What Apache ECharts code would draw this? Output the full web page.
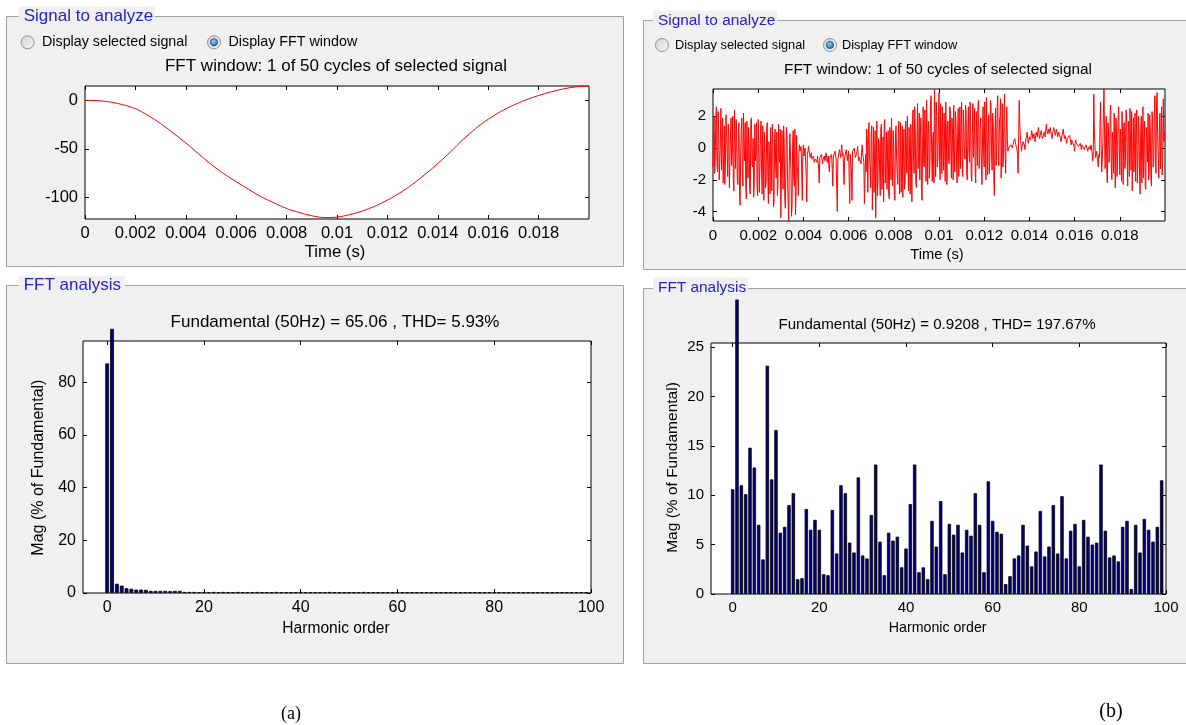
<!DOCTYPE html>
<html>
<head>
<meta charset="utf-8">
<title>FFT analysis</title>
<script src="https://cdn.jsdelivr.net/npm/echarts@6/dist/echarts.min.js"></script>
<style>
  html, body { margin: 0; padding: 0; background: #fff; }
  #main { width: 1186px; height: 725px; }
</style>
</head>
<body>
<div id="main"></div>
<script>
// (a) FFT window signal, read every 0.5 ms
const sineTime = [0, 0.0005, 0.001, 0.0015, 0.002, 0.0025, 0.003, 0.0035, 0.004, 0.0045,
  0.005, 0.0055, 0.006, 0.0065, 0.007, 0.0075, 0.008, 0.0085, 0.009, 0.0095,
  0.01, 0.0105, 0.011, 0.0115, 0.012, 0.0125, 0.013, 0.0135, 0.014, 0.0145,
  0.015, 0.0155, 0.016, 0.0165, 0.017, 0.0175, 0.018, 0.0185, 0.019, 0.0195, 0.02];
const sineValues = [0, -0.3, -1.7, -4.5, -8.6, -15.5, -24, -33.7, -44, -55,
  -66, -75.6, -84, -92, -99.7, -105.8, -111.7, -115.8, -119.2, -121,
  -120.6, -118, -114.4, -109.3, -103, -95.5, -86.6, -76.3, -65.3, -53.3,
  -40.5, -29.2, -19.5, -11.5, -5, 0.5, 5, 8.8, 11.9, 14, 14.8];

// (b) FFT window signal: samples every 0.05 ms, plus the samples half a step later
const noiseStep = 0.00005;
const noiseValues = [
  // 0 - 3.8 ms
  -1.2, 2.0, -0.5, 2.6, -1.5, 1.2, -2.1, 2.5, 0.3, -2.2,
  1.4, -1.0, 2.2, -1.8, 0.8, -2.6, 1.9, -0.4, -2.0, 2.4,
  -1.3, 0.6, -2.3, 1.6, -3.6, 1.0, -1.7, 2.2, -0.8, -2.5,
  1.7, -1.9, 0.4, -2.9, 1.9, -1.2, -3.1, 1.5, -0.3, -2.4,
  1.8, -2.8, 0.9, -1.6, 1.4, -3.3, 0.2, -2.2, 1.6, -3.5,
  -0.6, 1.3, -2.7, 0.7, -3.4, 1.2, -1.9, -3.0, 1.5, -0.9,
  -4.4, 1.1, -2.6, 0.5, -3.8, 1.3, -2.1, -4.6, 0.9, -1.5,
  -3.6, 1.1, -2.4, -4.2, 0.8, -1.7, -0.3,
  // 3.85 - 6.8 ms
  -0.2, 0.1, -3.3, 0.2, -0.4, 0.1, -3.4, -0.2,
  0.2, -0.6, -0.3, -0.8, -0.5,
  -1.0, -0.6, -0.9, -0.4, -2.2,
  -0.7, -0.4, -1.0, -0.6, -0.8,
  -0.3, -0.9, -0.5, -1.5, -0.7,
  -0.4, -2.4, -0.6, -0.2, -0.7,
  -4.0, -0.5, -0.1, -0.6, 0.2,
  -0.3, -2.3, -0.4, -0.1, -0.8,
  -0.2, -3.5, -0.5, -3.3, -0.3,
  0.0, -0.6, -0.4, 0.1, -0.8,
  -0.5, -1.0, 0.2, -0.6, -3.5, -0.4, 1.2,
  // 6.85 - 13 ms
  -2.8, 1.6, -1.2, 0.9, -3.9, 1.3, -0.5, -4.4, 1.7, -2.1,
  0.4, -3.0, 1.5, -1.4, -3.4, 1.8, -0.8, -2.6, 1.1, -3.2,
  0.6, 1.9, -2.4, -0.2, -3.3, 1.4, -1.7, 0.8, -2.9, 1.6,
  -0.9, -3.1, 1.2, -2.2, 0.3, 2.0, -2.7, -0.6, 1.5, -3.4,
  2.4, -1.6, 0.9, -2.5, 2.8, -0.4, -2.0, 1.9, -3.3, 2.6,
  -1.2, 0.5, 3.0, -2.3, 1.4, -0.8, 3.3, -2.1, 1.0, 3.7,
  -1.8, 2.2, -0.6, 3.5, -2.0, 1.1, 2.6, -1.4, 0.3, 2.9,
  -2.3, 1.7, -1.0, 2.4, -1.9, 0.8, 2.7, -1.5, 1.8, -2.2,
  2.5, 0.2, -1.3, 2.9, -1.8, 1.3, -0.7, 2.2, -2.0, 2.6,
  -0.9, 1.6, -2.1, 2.8, 0.4, -1.5, 2.3, -1.1, 3.0, -0.6,
  1.9, -2.3, 2.6, -1.2, 0.9, 3.2, -1.7, 2.1, -0.8, 2.7,
  -1.4, 1.5, -3.0, 2.5, -0.3, 3.3, -1.1, 2.0, -1.9, 2.8,
  -0.7, 3.4, -1.6, 2.6,
  // 13.05 - 16.8 ms
  -0.2, 0.1, -0.1, 0.3, 0.0, 0.4, 0.6, 0.2, -0.1, -1.6,
  3.0, 0.8, -0.2, 0.2, 0.5, -0.1, 0.6, 1.0, 0.3, 0.7,
  0.5, 1.1, 0.6, 0.9, 0.4, 1.0, 0.7, 1.3, 0.6, 0.9,
  0.8, 0.5, 1.0, 0.7, 1.5, 0.9, 1.2, 0.8, 1.0, 0.6,
  1.1, 1.4, 0.8, 1.2, 0.7, 1.0, 0.9, 0.4, 0.8, 1.2,
  0.6, 0.9, 0.3, 0.7, 0.5, 0.9, 0.2, 0.6, 0.4, -0.2,
  0.5, 0.2, 0.4, 0.0, 0.3, -0.1, 0.3, 0.1, -0.2, 0.2,
  0.0, -0.3, 0.1, -0.1, 0.3, -0.8,
  // 16.85 - 19.95 ms
  3.4, 0.2, -0.4, -0.2, -1.2, -0.6, 2.9, -1.5, 0.4, 3.8,
  -1.3, 2.0, -2.2, 1.1, -0.5, 2.7, -2.0, 0.6, 2.2, -2.5,
  1.4, -1.0, 2.6, -1.7, 0.3, 2.3, -2.3, 1.6, -0.8, 2.1,
  -2.4, 0.9, 2.5, -1.4, -2.7, 1.9, 0.0, -2.1, 2.4, -1.0,
  1.2, -2.9, 2.0, -0.4, -1.9, 1.7, -2.6, 0.7, 2.2, -1.5,
  1.0, -2.4, 1.9, -0.9, 3.3, -1.6, 3.5, -0.5, 1.2, -1.3, 2.6, -0.9, 0.4
];
const noiseValuesMid = [
  // 0 - 3.8 ms
  1.1, -1.6, 1.8, -0.9, 2.3, -2.0, 0.4, -1.4, 1.9, -0.6,
  -2.3, 2.1, -0.2, 1.5, -2.5, 0.9, -1.1, 2.0, -2.7, 0.5,
  1.8, -2.0, 1.1, -3.0, -0.3, 1.9, -2.4, 0.2, 1.6, -3.2,
  -0.5, 1.3, -2.6, 1.7, -1.0, 0.6, -2.2, -0.8, 1.6, -3.0,
  0.3, -1.2, 1.7, -2.9, -0.4, 1.0, -2.5, 1.2, -1.8, 0.4,
  -2.9, -0.2, 1.5, -3.7, 0.6, -1.4, 1.0, -2.3, -0.6, 1.2,
  -2.0, -0.5, 1.4, -3.1, -1.2, 0.9, -3.5, -1.0, 1.0, -4.3,
  0.4, -1.9, 1.2, -2.9, -1.0, -3.0, 0.2,
  // 3.85 - 6.8 ms
  -0.1, -1.5, -0.3, -0.5, 0.0, -1.8, -0.4, 0.1,
  -0.4, -0.5, -0.7, -0.6, -0.9,
  -0.7, -0.8, -0.5, -1.3, -0.6,
  -0.5, -0.8, -0.7, -0.5, -0.6,
  -0.6, -0.7, -1.1, -0.6, -0.5,
  -1.3, -0.5, -0.4, -0.5, -2.6,
  -0.7, -0.3, -0.4, -0.1, -0.5,
  -1.2, -0.6, -0.3, -0.5, -0.4,
  -1.8, -0.4, -1.5, -0.2, -0.1,
  -0.3, -0.5, -0.2, -0.5, -0.6,
  -0.7, -0.3, -0.4, -0.9, -2.0, -1.5, 0.5,
  // 6.85 - 13 ms
  0.8, -0.6, -2.5, 1.4, -1.9, -2.8, 1.1, -1.0, -3.0, 0.6,
  -1.5, 1.2, -2.6, 0.7, 1.6, -2.2, 1.0, -0.1, -2.9, 1.3,
  -2.0, -0.7, 1.1, -3.0, 0.9, -0.6, -2.3, 1.7, -1.2, -2.8,
  1.4, -0.3, -2.6, 1.7, -1.6, -0.9, 1.3, -2.9, -0.2, 1.8,
  -0.8, 2.6, -2.2, 0.5, -1.3, 2.2, 0.8, -2.6, 0.2, -1.0,
  2.4, -2.1, 0.9, 1.7, -1.9, 2.7, -0.3, 0.6, -2.2, 1.6,
  2.9, -1.2, 1.4, -0.9, 2.8, -1.6, -0.2, 2.2, -2.1, 0.9,
  1.5, -0.8, 2.6, -0.3, 1.9, -2.0, 0.1, 2.3, -0.7, 1.0,
  -1.8, 2.6, 1.1, -1.0, 2.4, -0.4, 2.7, -1.6, 0.8, -0.3,
  2.9, -1.7, 0.9, -0.6, 2.5, -2.2, 0.6, 2.7, -1.3, 1.5,
  -1.0, 0.6, -0.4, 2.9, -2.0, 1.2, 0.4, -1.6, 3.0, -0.2,
  2.2, -1.9, 0.7, -1.1, 2.6, -0.8, 1.7, 3.1, 0.3, -1.2,
  2.2, -0.3, 1.1, 0.5,
  // 13.05 - 16.8 ms
  0.0, -0.1, 0.2, 0.1, 0.2, 0.5, 0.4, 0.1, -0.4, 0.8,
  1.5, 0.3, 0.1, 0.4, 0.2, 0.3, 0.8, 0.6, 0.5, 0.6,
  0.8, 0.9, 0.7, 0.6, 0.8, 0.9, 1.1, 0.9, 0.8, 1.1,
  0.6, 0.8, 0.9, 1.2, 1.1, 1.0, 0.9, 1.3, 0.8, 0.9,
  1.3, 1.0, 0.9, 1.0, 0.8, 1.1, 0.6, 0.7, 1.0, 0.8,
  0.8, 0.5, 0.6, 0.6, 0.8, 0.4, 0.5, 0.5, 0.1, 0.3,
  0.3, 0.4, 0.1, 0.2, 0.1, 0.2, 0.2, -0.1, 0.0, 0.1,
  -0.2, -0.1, 0.0, 0.2, -0.3, -0.5,
  // 16.85 - 19.95 ms
  1.0, -0.6, -0.2, -0.9, -0.4, 1.5, 0.2, -0.7, 2.1, 0.9,
  0.5, -1.4, 1.6, -0.9, 2.3, -1.2, 1.0, -1.6, 0.1, 1.9,
  -1.8, 1.9, 0.2, 1.2, -2.1, 0.7, 1.4, -1.3, 2.4, -0.6,
  1.7, -1.8, 0.4, 2.3, -0.6, -1.5, 2.2, 0.6, -2.2, 2.0,
  -1.8, 1.0, -2.2, 2.6, 0.3, -2.4, 1.3, -0.9, -2.0, 2.1,
  -1.9, 2.3, -1.2, 2.0, -0.3, 2.7, 0.8, -1.9, 2.2, 0.4, -1.7, 3.1, 1.0
];

// harmonic spectra, % of fundamental, orders 0..99
const fftMagA = [
  87.1, 100.2, 3.5, 2.8, 1.8, 1.6, 1.3, 1.3, 1.2, 0.8,
  0.8, 0.8, 0.8, 0.7, 0.8, 0.8, 0.4, 0.4, 0.4, 0.3,
  0.4, 0.3, 0.4, 0.3, 0.4, 0.3, 0.3, 0.4, 0.3, 0.3,
  0.3, 0.4, 0.3, 0.3, 0.3, 0.4, 0.3, 0.3, 0.3, 0.3,
  0.4, 0.3, 0.3, 0.3, 0.3, 0.3, 0.4, 0.3, 0.3, 0.3,
  0.3, 0.3, 0.3, 0.4, 0.3, 0.3, 0.3, 0.3, 0.3, 0.3,
  0.4, 0.3, 0.3, 0.3, 0.3, 0.3, 0.3, 0.3, 0.3, 0.3,
  0.3, 0.3, 0.3, 0.3, 0.3, 0.3, 0.3, 0.3, 0.3, 0.3,
  0.3, 0.3, 0.3, 0.3, 0.3, 0.3, 0.3, 0.3, 0.3, 0.3,
  0.3, 0.3, 0.3, 0.3, 0.3, 0.3, 0.3, 0.3, 0.3, 0.3
];
const fftMagB = [
  10.6, 29.8, 11.0, 10.1, 14.8, 12.8, 7.0, 3.5, 23.1, 11.6,
  16.6, 6.2, 6.8, 9.0, 10.2, 1.5, 1.6, 8.6, 6.5, 7.5,
  6.5, 2.0, 1.9, 8.5, 4.1, 11.0, 10.2, 5.2, 4.2, 11.8,
  3.9, 3.6, 8.0, 13.1, 5.3, 1.9, 6.2, 5.4, 5.8, 2.7,
  4.6, 9.1, 13.1, 2.2, 2.7, 1.5, 7.4, 4.8, 9.4, 2.0,
  7.1, 6.0, 7.0, 4.2, 6.5, 5.9, 10.2, 7.0, 2.2, 11.4,
  7.4, 6.3, 6.1, 1.0, 1.8, 3.6, 3.9, 7.0, 4.9, 2.8,
  4.3, 8.4, 3.8, 4.8, 9.0, 4.1, 9.9, 3.6, 6.4, 7.1,
  2.8, 7.5, 5.8, 5.0, 5.2, 13.1, 6.4, 3.7, 3.9, 3.3,
  6.8, 7.4, 0.5, 7.0, 4.2, 7.6, 6.5, 5.3, 6.8, 11.5
];

// tick labels
const timeTicks = [0, 0.002, 0.004, 0.006, 0.008, 0.01, 0.012, 0.014, 0.016, 0.018];
const sineTicks = [-100, -50, 0];
const noiseTicks = [-4, -2, 0, 2];
const harmonicTicks = [0, 20, 40, 60, 80, 100];
const magTicksA = [0, 20, 40, 60, 80];
const magTicksB = [0, 5, 10, 15, 20, 25];

const FONT = '"Liberation Sans", Arial, sans-serif';
const chart = echarts.init(document.getElementById('main'));

const grids = [
  { left: 85, top: 86, width: 504, height: 133 },
  { left: 713, top: 89, width: 452, height: 132 },
  { left: 83, top: 341, width: 508, height: 252 },
  { left: 711, top: 343, width: 455, height: 251 }
].map(g => Object.assign({
  show: true, backgroundColor: '#fff', borderColor: '#000', borderWidth: 1,
  outerBoundsMode: 'none'
}, g));

const xAxis = [], yAxis = [];
function tickOpt(ticks) {
  return { show: true, inside: true, length: 4, customValues: ticks, lineStyle: { color: '#000', width: 1 } };
}
function addAxes(grid, xr, yr, fs) {
  const base = { type: 'value', gridIndex: grid, splitLine: { show: false }, axisLine: { show: false, onZero: false } };
  xAxis.push(Object.assign({}, base, {
    min: xr.min, max: xr.max, position: 'bottom', axisTick: tickOpt(xr.ticks),
    axisLabel: { customValues: xr.ticks, color: '#000', fontSize: fs, fontFamily: FONT, margin: xr.margin, formatter: xr.fmt }
  }));
  xAxis.push(Object.assign({}, base, {
    min: xr.min, max: xr.max, position: 'top', axisTick: tickOpt(xr.ticks), axisLabel: { show: false }
  }));
  yAxis.push(Object.assign({}, base, {
    min: yr.min, max: yr.max, position: 'left', axisTick: tickOpt(yr.ticks),
    axisLabel: { customValues: yr.ticks, color: '#000', fontSize: fs, fontFamily: FONT, margin: 7 }
  }));
  yAxis.push(Object.assign({}, base, {
    min: yr.min, max: yr.max, position: 'right', axisTick: tickOpt(yr.ticks), axisLabel: { show: false }
  }));
}
const timeFmt = v => String(+v.toFixed(3));
addAxes(0, { min: 0, max: 0.02, ticks: timeTicks, fmt: timeFmt, margin: 6 }, { min: -122.5, max: 14.8, ticks: sineTicks }, 16.5);
addAxes(1, { min: 0, max: 0.02, ticks: timeTicks, fmt: timeFmt, margin: 7 }, { min: -4.6, max: 3.72, ticks: noiseTicks }, 15);
addAxes(2, { min: -5, max: 100, ticks: harmonicTicks, margin: 7 }, { min: 0, max: 95.6, ticks: magTicksA }, 16);
addAxes(3, { min: -5, max: 100, ticks: harmonicTicks, margin: 6 }, { min: 0, max: 25.4, ticks: magTicksB }, 15);

// both sample sets, in time order
const noiseData = [];
noiseValues.forEach((v, i) => {
  noiseData.push([i * noiseStep, v]);
  noiseData.push([(i + 0.5) * noiseStep, noiseValuesMid[i]]);
});

const barStyle = { color: '#000080', borderColor: '#000', borderWidth: 0.8 };

// --- panel decoration: group boxes, radio buttons, titles
const graphics = [];
function groupBox(x, y, w, h, title, tx, ty, fs, bgw) {
  graphics.push({ type: 'rect', z: -10, shape: { x: x, y: y, width: w, height: h },
    style: { fill: '#f0f0f0', stroke: '#a0a0a0', lineWidth: 1 } });
  graphics.push({ type: 'rect', z: -9, shape: { x: tx - 5, y: ty - 10, width: bgw, height: 20 },
    style: { fill: '#f0f0f0' } });
  graphics.push({ type: 'text', z: 5, x: tx, y: ty,
    style: { text: title, fill: '#2323c8', fontSize: fs, fontFamily: FONT, align: 'left', verticalAlign: 'middle' } });
}
function radio(cx, cy, checked) {
  graphics.push({ type: 'circle', z: 5, shape: { cx: cx, cy: cy, r: 6.5 },
    style: { fill: new echarts.graphic.LinearGradient(0, 0, 1, 1, [
      { offset: 0, color: '#cfcfcf' }, { offset: 1, color: '#fbfbfb' }]), stroke: '#8e8f8f', lineWidth: 1 } });
  if (checked) {
    graphics.push({ type: 'circle', z: 6, shape: { cx: cx, cy: cy, r: 3.6 },
      style: { fill: new echarts.graphic.RadialGradient(0.4, 0.35, 0.8, [
        { offset: 0, color: '#8fd0ff' }, { offset: 1, color: '#13508f' }]), stroke: '#1c3f6e', lineWidth: 0.8 } });
  }
}
function label(text, x, y, fs, opts) {
  graphics.push(Object.assign({ type: 'text', z: 5, x: x, y: y,
    style: Object.assign({ text: text, fill: '#000', fontSize: fs, fontFamily: FONT, align: 'center', verticalAlign: 'middle' },
      opts && opts.style) }, opts && opts.el));
}

groupBox(6.5, 16.5, 617, 250, 'Signal to analyze', 23.7, 16.7, 17, 136);
groupBox(6.5, 285.5, 617, 378, 'FFT analysis', 23.7, 285.7, 17, 106);
groupBox(643.5, 20.5, 560, 249, 'Signal to analyze', 658, 20.7, 15.4, 124);
groupBox(643.5, 288.5, 560, 375, 'FFT analysis', 658, 287.3, 15.4, 95);

radio(27.6, 42.3, false);
radio(214, 42.3, true);
label('Display selected signal', 42, 42.3, 14.3, { style: { align: 'left' } });
label('Display FFT window', 228.5, 42.3, 14.3, { style: { align: 'left' } });
radio(662, 45, false);
radio(830, 45, true);
label('Display selected signal', 675, 45, 12.8, { style: { align: 'left' } });
label('Display FFT window', 842, 45, 12.8, { style: { align: 'left' } });

label('FFT window: 1 of 50 cycles of selected signal', 336, 66.7, 17);
label('FFT window: 1 of 50 cycles of selected signal', 938, 70, 15.3);
label('Fundamental (50Hz) = 65.06 , THD= 5.93%', 335, 322.7, 17);
label('Fundamental (50Hz) = 0.9208 , THD= 197.67%', 937, 325, 15.1);

label('Time (s)', 335, 252.3, 16.7);
label('Time (s)', 937, 255, 14.7);
label('Harmonic order', 336, 628.3, 15.6);
label('Harmonic order', 937.7, 627.7, 14.2);
label('Mag (% of Fundamental)', 38.3, 467.6, 16, { el: { rotation: Math.PI / 2 } });
label('Mag (% of Fundamental)', 673, 467.5, 15.5, { el: { rotation: Math.PI / 2 } });

label('(a)', 291, 714, 18, { style: { fontFamily: '"Liberation Serif", "Times New Roman", serif' } });
label('(b)', 1111, 712, 20, { style: { fontFamily: '"Liberation Serif", "Times New Roman", serif' } });

const option = {
  animation: false,
  backgroundColor: '#fff',
  grid: grids,
  xAxis: xAxis,
  yAxis: yAxis,
  graphic: { elements: graphics },
  series: [
    {
      type: 'line', xAxisIndex: 0, yAxisIndex: 0, smooth: 0.3, showSymbol: false,
      data: sineTime.map((t, i) => [t, sineValues[i]]),
      lineStyle: { color: '#ff0000', width: 1 }
    },
    {
      type: 'line', xAxisIndex: 2, yAxisIndex: 2, showSymbol: false,
      data: noiseData,
      lineStyle: { color: '#ff0000', width: 1 }
    },
    {
      type: 'bar', xAxisIndex: 4, yAxisIndex: 4, barWidth: 3.8, clip: false,
      data: fftMagA.map((v, i) => [i, v]), itemStyle: barStyle
    },
    {
      type: 'bar', xAxisIndex: 6, yAxisIndex: 6, barWidth: 3.4, clip: false,
      data: fftMagB.map((v, i) => [i, v]), itemStyle: barStyle
    }
  ]
};
chart.setOption(option);
</script>
</body>
</html>
